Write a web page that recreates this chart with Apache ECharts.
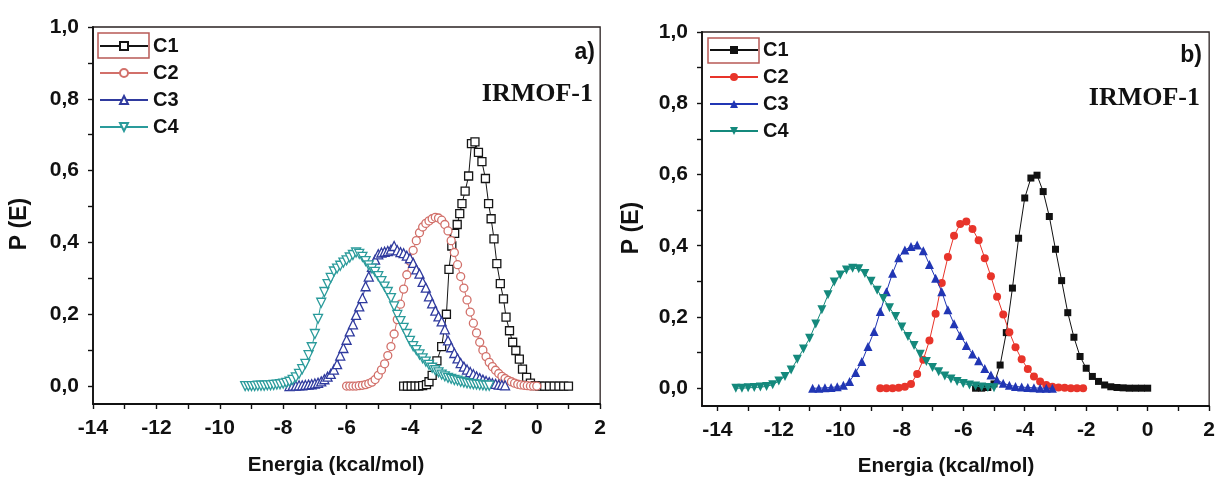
<!DOCTYPE html>
<html>
<head>
<meta charset="utf-8">
<script src="https://cdn.jsdelivr.net/npm/echarts@6/dist/echarts.min.js"></script>
<style>
html,body{margin:0;padding:0;background:#fff;}
#wrap{position:relative;width:1218px;height:477px;overflow:hidden;background:#fff;}
#cA{position:absolute;left:0;top:0;width:609px;height:477px;}
#cB{position:absolute;left:609px;top:0;width:609px;height:477px;}
</style>
</head>
<body>
<div id="wrap"><div id="cA"></div><div id="cB"></div></div>
<script>
// ---------- DATA ----------
const seriesNames = ['C1', 'C2', 'C3', 'C4'];
const yTicks = [0, 0.1, 0.2, 0.3, 0.4, 0.5, 0.6, 0.7, 0.8, 0.9, 1.0];
const yLabels = [0, 0.2, 0.4, 0.6, 0.8, 1.0];
const xTicksA = [-14,-13,-12,-11,-10,-9,-8,-7,-6,-5,-4,-3,-2,-1,0,1,2];
const xLabelsA = [-14,-12,-10,-8,-6,-4,-2,0,2];

// Panel a) (open symbols)
const a_C1 = [[-4.2,0],[-4.08,0],[-3.96,0],[-3.84,0],[-3.72,0],[-3.6,0.001],[-3.48,0.004],[-3.4,0.012],[-3.3,0.03],[-3.15,0.07],[-3.0,0.11],[-2.85,0.2],[-2.77,0.325],[-2.68,0.39],[-2.59,0.425],[-2.51,0.45],[-2.43,0.48],[-2.36,0.508],[-2.26,0.543],[-2.15,0.585],[-2.06,0.675],[-1.95,0.68],[-1.84,0.651],[-1.73,0.625],[-1.62,0.578],[-1.52,0.508],[-1.44,0.466],[-1.35,0.41],[-1.26,0.341],[-1.15,0.285],[-1.05,0.243],[-0.97,0.192],[-0.86,0.154],[-0.76,0.122],[-0.66,0.099],[-0.55,0.075],[-0.45,0.047],[-0.32,0.024],[-0.2,0.008],[-0.05,0.001],[0.1,0],[0.25,0],[0.4,0],[0.55,0],[0.7,0],[0.85,0],[1.0,0]];
const a_C2 = [[-6.0,0],[-5.9,0],[-5.8,0],[-5.7,0],[-5.6,0.001],[-5.5,0.002],[-5.4,0.004],[-5.3,0.007],[-5.2,0.011],[-5.1,0.018],[-5.0,0.03],[-4.9,0.045],[-4.8,0.062],[-4.7,0.085],[-4.6,0.11],[-4.5,0.145],[-4.4,0.185],[-4.3,0.228],[-4.2,0.27],[-4.1,0.31],[-4.0,0.348],[-3.9,0.378],[-3.8,0.405],[-3.7,0.427],[-3.6,0.443],[-3.5,0.453],[-3.4,0.46],[-3.3,0.466],[-3.2,0.47],[-3.1,0.468],[-3.0,0.462],[-2.9,0.45],[-2.8,0.432],[-2.7,0.405],[-2.6,0.372],[-2.5,0.338],[-2.4,0.305],[-2.3,0.273],[-2.2,0.24],[-2.1,0.206],[-2.0,0.175],[-1.9,0.148],[-1.8,0.122],[-1.7,0.1],[-1.6,0.082],[-1.5,0.066],[-1.4,0.054],[-1.3,0.044],[-1.2,0.035],[-1.1,0.027],[-1.0,0.021],[-0.9,0.016],[-0.8,0.012],[-0.7,0.008],[-0.6,0.005],[-0.5,0.003],[-0.4,0.002],[-0.3,0.001],[-0.2,0],[-0.1,0],[0.0,0]];
const a_C3 = [[-7.8,0],[-7.7,0.001],[-7.6,0.001],[-7.5,0.002],[-7.4,0.002],[-7.3,0.003],[-7.2,0.004],[-7.1,0.005],[-7.0,0.007],[-6.9,0.009],[-6.8,0.013],[-6.7,0.019],[-6.6,0.026],[-6.5,0.034],[-6.4,0.046],[-6.3,0.061],[-6.2,0.085],[-6.1,0.106],[-6.0,0.129],[-5.9,0.152],[-5.8,0.172],[-5.7,0.198],[-5.6,0.222],[-5.5,0.245],[-5.4,0.278],[-5.3,0.305],[-5.2,0.332],[-5.1,0.352],[-5.0,0.367],[-4.9,0.372],[-4.8,0.374],[-4.7,0.376],[-4.6,0.38],[-4.5,0.39],[-4.4,0.378],[-4.3,0.373],[-4.2,0.37],[-4.1,0.363],[-4.0,0.356],[-3.9,0.343],[-3.8,0.325],[-3.7,0.313],[-3.6,0.29],[-3.5,0.274],[-3.4,0.25],[-3.3,0.23],[-3.2,0.21],[-3.1,0.194],[-3.0,0.18],[-2.9,0.158],[-2.8,0.127],[-2.7,0.108],[-2.6,0.092],[-2.5,0.077],[-2.4,0.064],[-2.3,0.054],[-2.2,0.046],[-2.1,0.039],[-2.0,0.033],[-1.9,0.027],[-1.8,0.022],[-1.7,0.018],[-1.6,0.014],[-1.5,0.011],[-1.4,0.008],[-1.3,0.006],[-1.2,0.004],[-1.1,0.003],[-1.0,0.002]];
const a_C4 = [[-9.2,0],[-9.1,0],[-9.0,0],[-8.9,0],[-8.8,0.001],[-8.7,0.001],[-8.6,0.001],[-8.5,0.002],[-8.4,0.002],[-8.3,0.003],[-8.2,0.004],[-8.1,0.005],[-8.0,0.007],[-7.9,0.009],[-7.8,0.012],[-7.7,0.017],[-7.6,0.024],[-7.5,0.034],[-7.4,0.047],[-7.3,0.062],[-7.2,0.086],[-7.1,0.108],[-7.0,0.145],[-6.9,0.187],[-6.8,0.232],[-6.7,0.262],[-6.6,0.284],[-6.5,0.301],[-6.4,0.319],[-6.3,0.327],[-6.2,0.335],[-6.1,0.344],[-6.0,0.35],[-5.9,0.358],[-5.8,0.365],[-5.7,0.372],[-5.6,0.368],[-5.5,0.36],[-5.4,0.348],[-5.3,0.336],[-5.2,0.327],[-5.1,0.318],[-5.0,0.306],[-4.9,0.292],[-4.8,0.277],[-4.7,0.262],[-4.6,0.245],[-4.5,0.222],[-4.4,0.198],[-4.3,0.181],[-4.2,0.162],[-4.1,0.145],[-4.0,0.126],[-3.9,0.111],[-3.8,0.1],[-3.7,0.088],[-3.6,0.077],[-3.5,0.068],[-3.4,0.059],[-3.3,0.051],[-3.2,0.044],[-3.1,0.038],[-3.0,0.032],[-2.9,0.027],[-2.8,0.023],[-2.7,0.02],[-2.6,0.017],[-2.5,0.015],[-2.4,0.012],[-2.3,0.01],[-2.2,0.008],[-2.1,0.006],[-2.0,0.005],[-1.9,0.004],[-1.8,0.003],[-1.7,0.002],[-1.6,0.001],[-1.5,0.001]];

// Panel b) (filled symbols)
const xTicksB = [-14,-13,-12,-11,-10,-9,-8,-7,-6,-5,-4,-3,-2,-1,0,1,2];
const xLabelsB = [-14,-12,-10,-8,-6,-4,-2,0,2];
const b_C1 = [[-5.6,0],[-5.4,0],[-5.2,0.002],[-5.0,0.012],[-4.8,0.065],[-4.6,0.156],[-4.4,0.281],[-4.2,0.421],[-4.0,0.534],[-3.8,0.59],[-3.6,0.598],[-3.4,0.552],[-3.2,0.482],[-3.0,0.39],[-2.8,0.302],[-2.6,0.212],[-2.4,0.143],[-2.2,0.089],[-2.0,0.056],[-1.8,0.033],[-1.6,0.019],[-1.4,0.009],[-1.2,0.004],[-1.0,0.002],[-0.8,0.001],[-0.6,0],[-0.4,0],[-0.2,0],[0,0]];
const b_C2 = [[-8.7,0],[-8.5,0],[-8.3,0],[-8.1,0.001],[-7.9,0.004],[-7.7,0.012],[-7.5,0.04],[-7.3,0.08],[-7.1,0.134],[-6.9,0.209],[-6.7,0.295],[-6.5,0.368],[-6.3,0.428],[-6.1,0.461],[-5.9,0.468],[-5.7,0.447],[-5.5,0.415],[-5.3,0.365],[-5.1,0.314],[-4.9,0.257],[-4.7,0.207],[-4.5,0.157],[-4.3,0.115],[-4.1,0.081],[-3.9,0.054],[-3.7,0.033],[-3.5,0.019],[-3.3,0.009],[-3.1,0.004],[-2.9,0.002],[-2.7,0.001],[-2.5,0],[-2.3,0],[-2.1,0]];
const b_C3 = [[-10.9,0],[-10.7,0],[-10.5,0.001],[-10.3,0.002],[-10.1,0.004],[-9.9,0.008],[-9.7,0.019],[-9.5,0.044],[-9.3,0.075],[-9.1,0.117],[-8.9,0.159],[-8.7,0.215],[-8.5,0.271],[-8.3,0.323],[-8.1,0.366],[-7.9,0.388],[-7.7,0.398],[-7.5,0.402],[-7.3,0.386],[-7.1,0.347],[-6.9,0.309],[-6.7,0.271],[-6.5,0.22],[-6.3,0.181],[-6.1,0.148],[-5.9,0.12],[-5.7,0.096],[-5.5,0.077],[-5.3,0.055],[-5.1,0.037],[-4.9,0.023],[-4.7,0.014],[-4.5,0.008],[-4.3,0.005],[-4.1,0.003],[-3.9,0.002],[-3.7,0.001],[-3.5,0],[-3.3,0],[-3.1,0]];
const b_C4 = [[-13.4,0],[-13.2,0],[-13.0,0.001],[-12.8,0.002],[-12.6,0.003],[-12.4,0.005],[-12.2,0.01],[-12.0,0.02],[-11.8,0.033],[-11.6,0.051],[-11.4,0.081],[-11.2,0.11],[-11.0,0.14],[-10.8,0.18],[-10.6,0.22],[-10.4,0.262],[-10.2,0.298],[-10.0,0.318],[-9.8,0.332],[-9.6,0.337],[-9.4,0.335],[-9.2,0.322],[-9.0,0.3],[-8.8,0.275],[-8.6,0.252],[-8.4,0.226],[-8.2,0.201],[-8.0,0.172],[-7.8,0.145],[-7.6,0.12],[-7.4,0.095],[-7.2,0.075],[-7.0,0.058],[-6.8,0.046],[-6.6,0.034],[-6.4,0.026],[-6.2,0.019],[-6.0,0.013],[-5.8,0.009],[-5.6,0.006],[-5.4,0.003],[-5.2,0.002],[-5.0,0.001]];

// ---------- STYLE ----------
const SANS = '"Liberation Sans", Arial, sans-serif';
const SERIF = '"Liberation Serif", "Times New Roman", serif';
const DOWN_TRI = 'path://M0,0 L10,0 L5,8.66 Z';
const UP_TRI = 'path://M5,0 L10,8.66 L0,8.66 Z';

function fmtY(v){ return (Math.round(v*10)/10).toFixed(1).replace('.', ','); }

function makeOption(cfg){
  const series = cfg.data.map((d, i) => ({
    name: seriesNames[i],
    type: 'line',
    data: d,
    symbol: cfg.symbols[i],
    symbolSize: cfg.sizes[i],
    showAllSymbol: true,
    smooth: false,
    animation: false,
    lineStyle: {color: cfg.colors[i], width: 1},
    itemStyle: cfg.open
      ? {color: '#ffffff', borderColor: cfg.colors[i], borderWidth: 1.3}
      : {color: cfg.colors[i], borderColor: cfg.colors[i], borderWidth: 0},
    emphasis: {disabled: true},
    z: 2 + i
  }));
  return {
    animation: false,
    backgroundColor: '#ffffff',
    grid: {left: cfg.grid.left, top: cfg.grid.top, width: cfg.grid.width, height: cfg.grid.height,
           show: true, borderColor: '#2a2222', borderWidth: 1.3, backgroundColor: 'transparent'},
    xAxis: {
      type: 'value', min: cfg.xmin, max: 2,
      axisLine: {show: true, onZero: false, lineStyle: {color: '#111', width: 1.8}},
      axisTick: {show: true, inside: false, length: 5, customValues: cfg.xTicks, lineStyle: {color: '#111', width: 1.4}},
      axisLabel: {customValues: cfg.xLabels, margin: 14, color: '#111', fontFamily: SANS, fontWeight: 'bold', fontSize: 21,
                  formatter: v => String(v)},
      splitLine: {show: false}
    },
    yAxis: {
      type: 'value', min: -0.05, max: 1.0,
      axisLine: {show: true, onZero: false, lineStyle: {color: '#111', width: 1.8}},
      axisTick: {show: true, inside: false, length: 5, customValues: yTicks, lineStyle: {color: '#111', width: 1.4}},
      axisLabel: {customValues: yLabels, margin: 14, color: '#111', fontFamily: SANS, fontWeight: 'bold', fontSize: 21,
                  formatter: v => fmtY(v)},
      splitLine: {show: false}
    },
    legend: {
      orient: 'vertical', left: cfg.legend.left, top: cfg.legend.top, padding: 0,
      itemWidth: 48, itemHeight: 10, itemGap: 5,
      selectedMode: false,
      data: seriesNames,
      textStyle: {fontFamily: SANS, fontWeight: 'bold', fontSize: 20, color: '#111', lineHeight: 22}
    },
    graphic: [
      {type: 'rect', shape: cfg.box, style: {fill: 'none', stroke: '#b85a55', lineWidth: 1.5}, z: 100},
      {type: 'text', x: cfg.tag.x, y: cfg.tag.y, style: {text: cfg.tag.text, fontFamily: SANS, fontWeight: 'bold', fontSize: 23, fill: '#111', align: 'right', verticalAlign: 'middle'}, z: 100},
      {type: 'text', x: cfg.mof.x, y: cfg.mof.y, style: {text: 'IRMOF-1', fontFamily: SERIF, fontWeight: 'bold', fontSize: 26, fill: '#111', align: 'right', verticalAlign: 'middle'}, z: 100},
      {type: 'text', x: cfg.xt.x, y: cfg.xt.y, style: {text: 'Energia (kcal/mol)', fontFamily: SANS, fontWeight: 'bold', fontSize: 20.5, fill: '#111', align: 'center', verticalAlign: 'middle'}, z: 100},
      {type: 'text', x: cfg.yt.x, y: cfg.yt.y, rotation: Math.PI/2, style: {text: 'P (E)', fontFamily: SANS, fontWeight: 'bold', fontSize: 23, fill: '#111', align: 'center', verticalAlign: 'middle'}, z: 100}
    ],
    series: series
  };
}

const chartA = echarts.init(document.getElementById('cA'), null, {renderer: 'canvas'});
chartA.setOption(makeOption({
  data: [a_C1, a_C2, a_C3, a_C4],
  open: true,
  colors: ['#151515', '#d2706a', '#2f3a9e', '#2a9b9b'],
  symbols: ['rect', 'circle', UP_TRI, DOWN_TRI],
  sizes: [8, 8, 9, 9],
  xmin: -14, xTicks: xTicksA, xLabels: xLabelsA,
  grid: {left: 93, top: 27, width: 510, height: 377},
  legend: {left: 99, top: 35},
  box: {x: 98, y: 33, width: 51, height: 25},
  tag: {x: 595, y: 53, text: 'a)'},
  mof: {x: 593, y: 94},
  xt: {x: 336, y: 465},
  yt: {x: 20, y: 224}
}));

const chartB = echarts.init(document.getElementById('cB'), null, {renderer: 'canvas'});
chartB.setOption(makeOption({
  data: [b_C1, b_C2, b_C3, b_C4],
  open: false,
  colors: ['#111111', '#e8342a', '#2136b4', '#14897c'],
  symbols: ['rect', 'circle', UP_TRI, DOWN_TRI],
  sizes: [7, 8, 9, 9],
  xmin: -14.5, xTicks: xTicksB, xLabels: xLabelsB,
  grid: {left: 93, top: 32, width: 509, height: 374},
  legend: {left: 100, top: 39},
  box: {x: 99, y: 38, width: 51, height: 25},
  tag: {x: 593, y: 56, text: 'b)'},
  mof: {x: 591, y: 98},
  xt: {x: 337, y: 466},
  yt: {x: 23, y: 228}
}));
</script>
</body>
</html>
